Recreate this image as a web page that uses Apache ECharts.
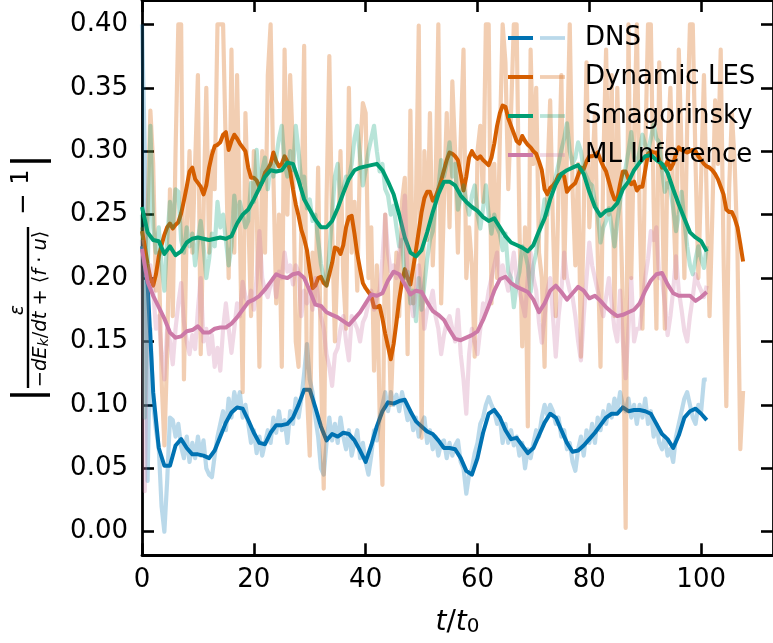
<!DOCTYPE html>
<html>
<head>
<meta charset="utf-8">
<script src="https://cdn.jsdelivr.net/npm/echarts@6/dist/echarts.min.js"></script>
<style>
  html, body { margin: 0; padding: 0; background: #fff; }
  #chart { width: 773px; height: 643px; }
</style>
</head>
<body>
<div id="chart"></div>
<script>
// Sampling steps (in units of t/t0) for the raw and smoothed records
const RAW_STEP = 0.5;
const SMOOTH_STEP = 1;
const LES_SMOOTH_STEP = 0.5;

const LABELS = ['DNS', 'Dynamic LES', 'Smagorinsky', 'ML Inference'];
const X_TICKS = [0, 20, 40, 60, 80, 100];
const Y_TICKS = [0.00, 0.05, 0.10, 0.15, 0.20, 0.25, 0.30, 0.35, 0.40];

// DNS, raw samples (t = 0 .. 101, step 0.5)
const dnsRaw = [
  0.40, 0.30, 0.04, 0.16, 0.10, 0.08, 0.066, 0.02, 0.00, 0.04,
  0.09, 0.088, 0.075, 0.085, 0.067, 0.058, 0.075, 0.055, 0.07, 0.058,
  0.075, 0.06, 0.072, 0.05, 0.045, 0.043, 0.06, 0.075, 0.085, 0.095,
  0.08, 0.105, 0.09, 0.11, 0.10, 0.11, 0.09, 0.10, 0.085, 0.07,
  0.08, 0.062, 0.075, 0.06, 0.07, 0.08, 0.07, 0.09, 0.078, 0.095,
  0.08, 0.088, 0.07, 0.095, 0.085, 0.105, 0.09, 0.105, 0.125, 0.148,
  0.12, 0.11, 0.09, 0.075, 0.05, 0.045, 0.07, 0.09, 0.072, 0.085,
  0.07, 0.09, 0.075, 0.065, 0.08, 0.06, 0.07, 0.08, 0.058, 0.07,
  0.055, 0.045, 0.06, 0.08, 0.072, 0.09, 0.10, 0.11, 0.095, 0.11,
  0.10, 0.108, 0.095, 0.11, 0.10, 0.088, 0.095, 0.08, 0.09, 0.075,
  0.085, 0.09, 0.07, 0.08, 0.065, 0.075, 0.06, 0.07, 0.072, 0.058,
  0.07, 0.06, 0.068, 0.072, 0.055, 0.05, 0.03, 0.045, 0.05, 0.062,
  0.07, 0.085, 0.09, 0.10, 0.106, 0.10, 0.095, 0.085, 0.09, 0.07,
  0.085, 0.07, 0.08, 0.068, 0.075, 0.06, 0.07, 0.05, 0.065, 0.058,
  0.07, 0.08, 0.075, 0.09, 0.10, 0.092, 0.10, 0.095, 0.085, 0.09,
  0.075, 0.08, 0.065, 0.07, 0.055, 0.048, 0.065, 0.075, 0.06, 0.08,
  0.07, 0.085, 0.07, 0.09, 0.08, 0.095, 0.085, 0.10, 0.09, 0.105,
  0.095, 0.11, 0.10, 0.095, 0.105, 0.09, 0.10, 0.085, 0.10, 0.09,
  0.105, 0.085, 0.095, 0.075, 0.085, 0.07, 0.065, 0.075, 0.06, 0.065,
  0.055, 0.075, 0.085, 0.095, 0.105, 0.11, 0.10, 0.09, 0.085, 0.10,
  0.095, 0.12, 0.12
];

// DNS, smoothed (t = 0 .. 101, step 1)
const dnsSmooth = [
  0.225, 0.195, 0.110, 0.066, 0.052, 0.052, 0.068, 0.073, 0.066, 0.061,
  0.061, 0.060, 0.058, 0.064, 0.075, 0.086, 0.094, 0.098, 0.097, 0.088,
  0.078, 0.070, 0.069, 0.078, 0.084, 0.084, 0.085, 0.090, 0.100, 0.112,
  0.112, 0.098, 0.083, 0.072, 0.077, 0.075, 0.078, 0.077, 0.072, 0.064,
  0.055, 0.068, 0.083, 0.095, 0.102, 0.101, 0.103, 0.104, 0.095, 0.087,
  0.083, 0.079, 0.077, 0.072, 0.066, 0.066, 0.065, 0.058, 0.048, 0.045,
  0.058, 0.078, 0.093, 0.096, 0.090, 0.080, 0.073, 0.074, 0.068, 0.062,
  0.066, 0.076, 0.086, 0.093, 0.090, 0.080, 0.070, 0.063, 0.064, 0.068,
  0.073, 0.078, 0.084, 0.090, 0.093, 0.093, 0.098, 0.095, 0.096, 0.096,
  0.095, 0.093, 0.085, 0.077, 0.073, 0.066, 0.076, 0.090, 0.095, 0.097,
  0.093, 0.088
];

// Dynamic LES, raw samples (t = 0 .. 107.5, step 0.5)
const lesRaw = [
  0.24, 0.22, 0.25, 0.332, 0.29, 0.19, 0.22, 0.12, 0.068, 0.14,
  0.27, 0.17, 0.30, 0.40, 0.40, 0.12, 0.24, 0.30, 0.22, 0.29,
  0.36, 0.14, 0.25, 0.35, 0.22, 0.30, 0.27, 0.40, 0.40, 0.40,
  0.30, 0.20, 0.38, 0.22, 0.36, 0.24, 0.11, 0.33, 0.25, 0.17,
  0.30, 0.26, 0.13, 0.30, 0.22, 0.36, 0.40, 0.28, 0.18, 0.25,
  0.13, 0.38, 0.25, 0.36, 0.30, 0.15, 0.13, 0.24, 0.383, 0.11,
  0.06, 0.22, 0.18, 0.287, 0.13, 0.034, 0.26, 0.375, 0.24, 0.15,
  0.22, 0.30, 0.20, 0.16, 0.35, 0.22, 0.26, 0.19, 0.30, 0.338,
  0.33, 0.20, 0.24, 0.127, 0.21, 0.093, 0.037, 0.25, 0.19, 0.10,
  0.16, 0.22, 0.17, 0.26, 0.279, 0.14, 0.332, 0.18, 0.26, 0.399,
  0.074, 0.30, 0.23, 0.33, 0.21, 0.27, 0.40, 0.18, 0.26, 0.33,
  0.24, 0.355, 0.30, 0.22, 0.31, 0.38, 0.20, 0.24, 0.21, 0.138,
  0.30, 0.32, 0.26, 0.40, 0.40, 0.18, 0.29, 0.20, 0.31, 0.40,
  0.37, 0.27, 0.33, 0.40, 0.40, 0.24, 0.146, 0.24, 0.083, 0.38,
  0.29, 0.35, 0.22, 0.20, 0.13, 0.28, 0.34, 0.24, 0.17, 0.27,
  0.36, 0.20, 0.30, 0.40, 0.27, 0.21, 0.29, 0.138, 0.25, 0.37,
  0.24, 0.28, 0.33, 0.22, 0.13, 0.29, 0.38, 0.25, 0.36, 0.17,
  0.35, 0.26, 0.18, 0.003, 0.40, 0.20, 0.31, 0.40, 0.25, 0.16,
  0.30, 0.40, 0.40, 0.26, 0.16, 0.37, 0.27, 0.16, 0.30, 0.35,
  0.26, 0.20, 0.38, 0.30, 0.20, 0.32, 0.40, 0.40, 0.29, 0.20,
  0.28, 0.36, 0.26, 0.17, 0.25, 0.34, 0.29, 0.38, 0.22, 0.099,
  0.27, 0.33, 0.29, 0.22, 0.065, 0.111
];

// Dynamic LES, smoothed (t = 0 .. 107.5, step 0.5)
const lesSmooth = [
  0.237, 0.225, 0.211, 0.200, 0.194, 0.203, 0.217, 0.226, 0.234, 0.240,
  0.243, 0.239, 0.242, 0.244, 0.251, 0.261, 0.272, 0.284, 0.287, 0.278,
  0.275, 0.272, 0.266, 0.273, 0.287, 0.297, 0.304, 0.305, 0.307, 0.313,
  0.315, 0.301, 0.308, 0.313, 0.310, 0.306, 0.303, 0.300, 0.287, 0.279,
  0.279, 0.277, 0.272, 0.276, 0.283, 0.286, 0.290, 0.299, 0.292, 0.288,
  0.290, 0.296, 0.292, 0.284, 0.270, 0.258, 0.249, 0.238, 0.231, 0.222,
  0.206, 0.192, 0.194, 0.200, 0.201, 0.196, 0.194, 0.203, 0.212, 0.224,
  0.223, 0.219, 0.226, 0.240, 0.248, 0.249, 0.235, 0.219, 0.207, 0.196,
  0.192, 0.189, 0.186, 0.177, 0.177, 0.178, 0.168, 0.156, 0.146, 0.136,
  0.148, 0.165, 0.183, 0.197, 0.207, 0.200, 0.195, 0.208, 0.222, 0.237,
  0.252, 0.263, 0.268, 0.268, 0.261, 0.264, 0.270, 0.277, 0.285, 0.293,
  0.299, 0.298, 0.296, 0.293, 0.282, 0.269, 0.280, 0.295, 0.300, 0.296,
  0.294, 0.296, 0.293, 0.291, 0.289, 0.295, 0.306, 0.320, 0.330, 0.336,
  0.335, 0.326, 0.320, 0.314, 0.308, 0.306, 0.312, 0.308, 0.305, 0.303,
  0.300, 0.298, 0.292, 0.285, 0.270, 0.266, 0.271, 0.273, 0.276, 0.281,
  0.282, 0.280, 0.268, 0.271, 0.273, 0.275, 0.281, 0.287, 0.286, 0.292,
  0.296, 0.296, 0.297, 0.299, 0.293, 0.288, 0.284, 0.276, 0.268, 0.262,
  0.262, 0.274, 0.284, 0.284, 0.278, 0.274, 0.276, 0.269, 0.272, 0.272,
  0.285, 0.298, 0.300, 0.299, 0.299, 0.293, 0.287, 0.288, 0.292, 0.286,
  0.290, 0.298, 0.303, 0.301, 0.300, 0.299, 0.300, 0.301, 0.300, 0.296,
  0.293, 0.290, 0.288, 0.287, 0.285, 0.282, 0.278, 0.272, 0.266, 0.254,
  0.252, 0.252, 0.247, 0.240, 0.227, 0.213
];

// Smagorinsky, raw samples (t = 0 .. 101, step 0.5)
const smagRaw = [
  0.25, 0.09, 0.20, 0.32, 0.24, 0.22, 0.24, 0.21, 0.19, 0.23,
  0.26, 0.24, 0.27, 0.268, 0.23, 0.22, 0.24, 0.225, 0.235, 0.21,
  0.23, 0.245, 0.225, 0.20, 0.215, 0.235, 0.225, 0.26, 0.24, 0.25,
  0.23, 0.21, 0.225, 0.265, 0.245, 0.26, 0.25, 0.24, 0.245, 0.275,
  0.26, 0.301, 0.27, 0.285, 0.295, 0.27, 0.29, 0.28, 0.295, 0.31,
  0.32, 0.29, 0.28, 0.30, 0.285, 0.32, 0.30, 0.275, 0.28, 0.255,
  0.262, 0.245, 0.25, 0.23, 0.211, 0.20, 0.194, 0.22, 0.25, 0.28,
  0.29, 0.262, 0.27, 0.28, 0.279, 0.29, 0.31, 0.32, 0.295, 0.273,
  0.285, 0.30, 0.31, 0.32, 0.30, 0.284, 0.29, 0.27, 0.265, 0.25,
  0.257, 0.24, 0.225, 0.23, 0.20, 0.205, 0.18, 0.19, 0.166, 0.20,
  0.175, 0.195, 0.215, 0.23, 0.237, 0.26, 0.27, 0.293, 0.28, 0.29,
  0.307, 0.28, 0.29, 0.254, 0.265, 0.273, 0.26, 0.25, 0.265, 0.273,
  0.25, 0.239, 0.255, 0.273, 0.25, 0.235, 0.25, 0.24, 0.235, 0.222,
  0.235, 0.205, 0.20, 0.177, 0.195, 0.205, 0.225, 0.22, 0.21, 0.189,
  0.21, 0.22, 0.235, 0.245, 0.262, 0.25, 0.265, 0.27, 0.28, 0.29,
  0.301, 0.31, 0.322, 0.30, 0.29, 0.295, 0.307, 0.30, 0.285, 0.28,
  0.275, 0.273, 0.26, 0.25, 0.228, 0.24, 0.245, 0.255, 0.24, 0.225,
  0.245, 0.26, 0.275, 0.287, 0.30, 0.315, 0.295, 0.29, 0.30, 0.313,
  0.305, 0.30, 0.31, 0.321, 0.31, 0.307, 0.285, 0.268, 0.275, 0.27,
  0.255, 0.237, 0.25, 0.268, 0.245, 0.225, 0.21, 0.203, 0.215, 0.225,
  0.215, 0.208, 0.225
];

// Smagorinsky, smoothed (t = 0 .. 101, step 1)
const smagSmooth = [
  0.256, 0.236, 0.230, 0.229, 0.219, 0.225, 0.218, 0.221, 0.228, 0.231,
  0.232, 0.231, 0.230, 0.231, 0.232, 0.231, 0.233, 0.243, 0.250, 0.254,
  0.262, 0.271, 0.280, 0.285, 0.284, 0.285, 0.291, 0.290, 0.277, 0.262,
  0.254, 0.246, 0.240, 0.240, 0.245, 0.255, 0.267, 0.278, 0.285, 0.287,
  0.288, 0.289, 0.290, 0.285, 0.276, 0.266, 0.250, 0.232, 0.220, 0.217,
  0.222, 0.236, 0.252, 0.266, 0.276, 0.276, 0.273, 0.265, 0.260, 0.256,
  0.253, 0.248, 0.245, 0.247, 0.240, 0.233, 0.228, 0.226, 0.224, 0.221,
  0.226, 0.237, 0.247, 0.262, 0.274, 0.282, 0.285, 0.287, 0.289, 0.282,
  0.268, 0.256, 0.249, 0.253, 0.254, 0.259, 0.270, 0.276, 0.285, 0.291,
  0.296, 0.297, 0.293, 0.290, 0.283, 0.270, 0.258, 0.247, 0.236, 0.232,
  0.229, 0.221
];

// ML Inference, raw samples (t = 0 .. 101, step 0.5)
const mlRaw = [
  0.23, 0.032, 0.20, 0.21, 0.19, 0.16, 0.17, 0.14, 0.12, 0.16,
  0.15, 0.132, 0.16, 0.18, 0.196, 0.165, 0.15, 0.14, 0.155, 0.144,
  0.175, 0.20, 0.15, 0.16, 0.14, 0.155, 0.13, 0.145, 0.127, 0.16,
  0.18, 0.16, 0.141, 0.16, 0.18, 0.17, 0.197, 0.185, 0.18, 0.19,
  0.175, 0.20, 0.237, 0.20, 0.19, 0.185, 0.195, 0.20, 0.185, 0.205,
  0.20, 0.22, 0.205, 0.21, 0.195, 0.21, 0.205, 0.17, 0.19, 0.18,
  0.19, 0.175, 0.20, 0.185, 0.17, 0.16, 0.14, 0.13, 0.115, 0.14,
  0.145, 0.16, 0.17, 0.15, 0.135, 0.17, 0.165, 0.16, 0.15, 0.165,
  0.17, 0.18, 0.19, 0.175, 0.185, 0.19, 0.215, 0.25, 0.22, 0.205,
  0.21, 0.20, 0.22, 0.235, 0.265, 0.20, 0.185, 0.17, 0.19, 0.21,
  0.19, 0.16, 0.175, 0.18, 0.19, 0.17, 0.16, 0.14, 0.155, 0.165,
  0.17, 0.16, 0.15, 0.175, 0.14, 0.12, 0.093, 0.14, 0.16, 0.15,
  0.14, 0.16, 0.18, 0.175, 0.19, 0.20, 0.21, 0.22, 0.20, 0.21,
  0.20, 0.19, 0.205, 0.22, 0.20, 0.19, 0.18, 0.17, 0.20, 0.22,
  0.20, 0.19, 0.165, 0.149, 0.17, 0.19, 0.20, 0.17, 0.138, 0.17,
  0.19, 0.22, 0.20, 0.19, 0.185, 0.17, 0.15, 0.135, 0.17, 0.20,
  0.228, 0.21, 0.20, 0.19, 0.18, 0.17, 0.185, 0.20, 0.18, 0.16,
  0.15, 0.19, 0.15, 0.121, 0.16, 0.20, 0.15, 0.16, 0.16, 0.18,
  0.20, 0.215, 0.237, 0.23, 0.24, 0.20, 0.20, 0.18, 0.155, 0.17,
  0.19, 0.217, 0.19, 0.175, 0.158, 0.15, 0.17, 0.185, 0.203, 0.195,
  0.19, 0.185, 0.194
];

// ML Inference, smoothed (t = 0 .. 101, step 1)
const mlSmooth = [
  0.223, 0.197, 0.186, 0.177, 0.168, 0.157, 0.153, 0.154, 0.158, 0.159,
  0.162, 0.157, 0.157, 0.160, 0.161, 0.161, 0.164, 0.169, 0.175, 0.181,
  0.183, 0.186, 0.191, 0.197, 0.203, 0.201, 0.200, 0.203, 0.204, 0.200,
  0.190, 0.179, 0.178, 0.173, 0.171, 0.169, 0.166, 0.163, 0.168, 0.173,
  0.180, 0.187, 0.186, 0.188, 0.198, 0.205, 0.203, 0.195, 0.187, 0.190,
  0.189, 0.181, 0.174, 0.171, 0.167, 0.159, 0.152, 0.151, 0.153, 0.155,
  0.158, 0.167, 0.178, 0.190, 0.199, 0.201, 0.196, 0.193, 0.191, 0.189,
  0.183, 0.173, 0.180, 0.190, 0.194, 0.189, 0.183, 0.188, 0.193, 0.190,
  0.184, 0.186, 0.182, 0.177, 0.173, 0.170, 0.171, 0.173, 0.175, 0.180,
  0.190, 0.198, 0.203, 0.204, 0.195, 0.188, 0.186, 0.186, 0.186, 0.182,
  0.185, 0.189
];

const FONT = 'DejaVu Sans';
const COLORS = ['#0072b2', '#d55e00', '#009e73', '#cc79a7'];
const LIGHT = [
  'rgba(0,114,178,0.27)',
  'rgba(213,94,0,0.30)',
  'rgba(0,158,115,0.28)',
  'rgba(204,121,167,0.29)'
];

function timed(values, step) {
  return values.map((v, i) => [i * step, v]);
}

const records = [
  { raw: dnsRaw, smooth: dnsSmooth, smoothStep: SMOOTH_STEP },
  { raw: lesRaw, smooth: lesSmooth, smoothStep: LES_SMOOTH_STEP },
  { raw: smagRaw, smooth: smagSmooth, smoothStep: SMOOTH_STEP },
  { raw: mlRaw, smooth: mlSmooth, smoothStep: SMOOTH_STEP }
];

const series = [];
records.forEach((r, k) => {
  series.push({
    name: LABELS[k] + ' (raw)',
    type: 'line',
    symbol: 'none',
    silent: true,
    color: LIGHT[k],
    lineStyle: { color: LIGHT[k], width: 4.2, join: 'round' },
    data: timed(r.raw, RAW_STEP)
  });
  series.push({
    name: LABELS[k],
    type: 'line',
    symbol: 'none',
    silent: true,
    color: COLORS[k],
    lineStyle: { color: COLORS[k], width: 4, join: 'round' },
    data: timed(r.smooth, r.smoothStep)
  });
});

const X_MAX = 112.85;
const Y_MIN = -0.0186;
const Y_MAX = 0.4192;

const spine = { show: true, onZero: false, lineStyle: { color: '#000', width: 2.8 } };
const tickStyle = { color: '#000', width: 2.6 };

const chart = echarts.init(document.getElementById('chart'), null, { renderer: 'canvas' });

chart.setOption({
  animation: false,
  backgroundColor: '#fff',
  textStyle: { fontFamily: FONT },
  grid: { left: 142, right: -1.8, top: 0, bottom: 87.7, containLabel: false },
  xAxis: [
    {
      type: 'value', position: 'bottom', min: 0, max: X_MAX,
      axisLine: spine,
      axisTick: { show: true, inside: true, length: 12, lineStyle: tickStyle, customValues: X_TICKS },
      axisLabel: { customValues: X_TICKS, color: '#000', fontSize: 26, fontFamily: FONT, margin: 12 },
      splitLine: { show: false },
      name: '{i|t}{u|/}{i|t}{s|0}',
      nameLocation: 'middle',
      nameGap: 53,
      nameTextStyle: {
        color: '#000',
        rich: {
          i: { fontSize: 28, fontStyle: 'italic', fontFamily: FONT, color: '#000' },
          u: { fontSize: 28, fontFamily: FONT, color: '#000' },
          s: { fontSize: 20, fontFamily: FONT, color: '#000', verticalAlign: 'bottom' }
        }
      }
    },
    {
      type: 'value', position: 'top', min: 0, max: X_MAX,
      axisLine: spine,
      axisTick: { show: true, inside: true, length: 12, lineStyle: tickStyle, customValues: X_TICKS },
      axisLabel: { show: false },
      splitLine: { show: false }
    }
  ],
  yAxis: [
    {
      type: 'value', position: 'left', min: Y_MIN, max: Y_MAX,
      axisLine: spine,
      axisTick: { show: true, inside: true, length: 12, lineStyle: tickStyle, customValues: Y_TICKS },
      axisLabel: {
        customValues: Y_TICKS, color: '#000', fontSize: 26, fontFamily: FONT, margin: 14,
        formatter: v => v.toFixed(2)
      },
      splitLine: { show: false }
    },
    {
      type: 'value', position: 'right', min: Y_MIN, max: Y_MAX,
      axisLine: spine,
      axisTick: { show: true, inside: true, length: 12, lineStyle: tickStyle, customValues: Y_TICKS },
      axisLabel: { show: false },
      splitLine: { show: false }
    }
  ],
  legend: [
    {
      // pale handles for the raw records
      orient: 'vertical', left: 535, top: 20,
      itemWidth: 25, itemHeight: 3.8, itemGap: 13,
      icon: 'rect', selectedMode: false,
      formatter: () => ' ',
      textStyle: { fontSize: 26, lineHeight: 26, fontFamily: FONT },
      data: LABELS.map((n, k) => ({ name: n + ' (raw)', itemStyle: { color: LIGHT[k], borderWidth: 0 } }))
    },
    {
      // dark handles and names for the smoothed records
      orient: 'vertical', left: 503, top: 20,
      itemWidth: 72, itemHeight: 3.8, itemGap: 13,
      icon: 'path://M0,0H25V1H0Z M72,0L72,1',
      symbolKeepAspect: false, selectedMode: false,
      textStyle: { fontSize: 26, lineHeight: 26, fontFamily: FONT, color: '#000' },
      data: LABELS.map((n, k) => ({ name: n, itemStyle: { color: COLORS[k], borderWidth: 0 } }))
    }
  ],
  graphic: [
    {
      // y-axis title: | eps / (-dE_k/dt + <f.u>) - 1 |, reading bottom to top
      type: 'group', x: 30, y: 278, rotation: Math.PI / 2, silent: true,
      children: [
        { type: 'line', shape: { x1: -117, y1: -20, x2: -117, y2: 20 }, style: { stroke: '#000', lineWidth: 3.6 } },
        { type: 'line', shape: { x1: -110, y1: -2, x2: 51, y2: -2 }, style: { stroke: '#000', lineWidth: 2.4 } },
        {
          type: 'text', x: -32, y: -12,
          style: { text: 'ε', fontSize: 19, fontStyle: 'italic', fontFamily: FONT, fill: '#000', align: 'center', verticalAlign: 'middle' }
        },
        {
          type: 'text', x: -31, y: 11,
          style: {
            text: '{u|−}{i|dE}{k|k}{u|/}{i|dt}{p|+}{u|⟨}{i|f}{p|·}{i|u}{u|⟩}',
            fill: '#000', align: 'center', verticalAlign: 'middle',
            rich: {
              u: { fontSize: 19.5, fontFamily: FONT, fill: '#000' },
              p: { fontSize: 19.5, fontFamily: FONT, fill: '#000', padding: [0, 6] },
              i: { fontSize: 19.5, fontStyle: 'italic', fontFamily: FONT, fill: '#000' },
              k: { fontSize: 14, fontStyle: 'italic', fontFamily: FONT, fill: '#000', verticalAlign: 'bottom' }
            }
          }
        },
        {
          type: 'text', x: 74, y: -6,
          style: { text: '−', fontSize: 26, fontFamily: FONT, fill: '#000', align: 'center', verticalAlign: 'middle' }
        },
        {
          type: 'text', x: 101, y: -8,
          style: { text: '1', fontSize: 24, fontFamily: FONT, fill: '#000', align: 'center', verticalAlign: 'middle' }
        },
        { type: 'line', shape: { x1: 117, y1: -20, x2: 117, y2: 21 }, style: { stroke: '#000', lineWidth: 3.6 } }
      ]
    }
  ],
  series: series
});
</script>
</body>
</html>
